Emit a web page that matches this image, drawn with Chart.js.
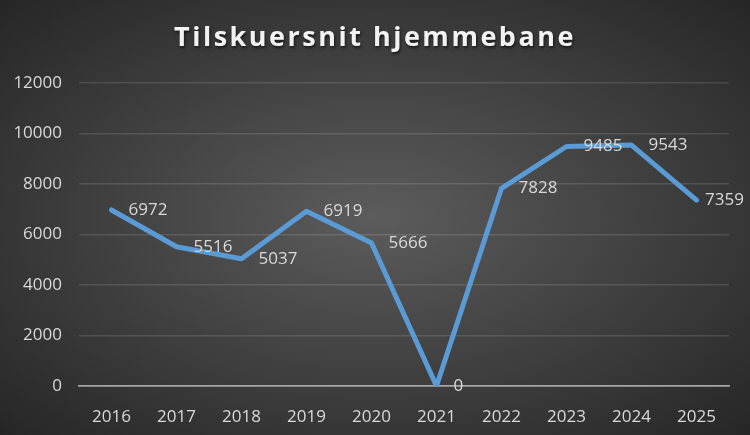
<!DOCTYPE html>
<html>
<head>
<meta charset="utf-8">
<script src="https://cdn.jsdelivr.net/npm/chart.js@4"></script>
<style>
    html, body { margin: 0; padding: 0; }
    #wrap {
        width: 750px;
        height: 435px;
        background: radial-gradient(ellipse at 50% 50%, #5c5c5c 0%, #3e3e3e 55%, #262626 100%);
    }
</style>
</head>
<body>
<div id="wrap"><canvas id="tilskuerChart" width="750" height="435"></canvas></div>
<script>
var titel = 'Tilskuersnit hjemmebane';
var aar = ['2016', '2017', '2018', '2019', '2020', '2021', '2022', '2023', '2024', '2025'];
var tilskuere = [6972, 5516, 5037, 6919, 5666, 0, 7828, 9485, 9543, 7359];
var yMin = 0;
var yMax = 12000;
var yStep = 2000;

var tekstFarve = '#d9d9d9';
var linjeFarve = '#5b9bd5';

// titel med lidt afstand mellem bogstaverne og skygge
var titelPlugin = {
    id: 'titelPlugin',
    afterDraw: function (chart) {
        var ctx = chart.ctx;
        ctx.save();
        ctx.font = 'bold 27px "Open Sans"';
        ctx.letterSpacing = '2.5px';
        ctx.fillStyle = '#f2f2f2';
        ctx.textAlign = 'center';
        ctx.textBaseline = 'middle';
        ctx.shadowColor = 'rgba(0, 0, 0, 0.6)';
        ctx.shadowOffsetX = 1;
        ctx.shadowOffsetY = 2;
        ctx.shadowBlur = 3;
        ctx.fillText(titel, chart.width / 2, 38);
        ctx.restore();
    }
};

// værdier til højre for hvert punkt, holdes inden for kanten
var labelPlugin = {
    id: 'labelPlugin',
    afterDatasetsDraw: function (chart) {
        var ctx = chart.ctx;
        var meta = chart.getDatasetMeta(0);
        ctx.save();
        ctx.font = '17px "Open Sans"';
        ctx.fillStyle = tekstFarve;
        ctx.textAlign = 'left';
        ctx.textBaseline = 'middle';
        meta.data.forEach(function (punkt, i) {
            var tekst = String(tilskuere[i]);
            var bredde = ctx.measureText(tekst).width;
            var x = Math.min(punkt.x + 17, chart.width - bredde - 6);
            ctx.fillText(tekst, x, punkt.y);
        });
        ctx.restore();
    }
};

var tilskuerCtx = document.getElementById('tilskuerChart').getContext('2d');

var tilskuerChart = new Chart(tilskuerCtx, {
    type: 'line',
    data: {
        labels: aar,
        datasets: [
            {
                label: titel,
                data: tilskuere,
                borderColor: linjeFarve,
                backgroundColor: linjeFarve,
                borderWidth: 5,
                borderCapStyle: 'round',
                borderJoinStyle: 'round',
                pointRadius: 0,
                tension: 0,
                fill: false
            }
        ]
    },
    options: {
        responsive: false,
        animation: false,
        layout: {
            padding: {
                left: 0,
                right: 21,
                top: 83,
                bottom: 0
            }
        },
        scales: {
            x: {
                offset: true,
                grid: {
                    display: false
                },
                border: {
                    color: '#a6a6a6',
                    width: 1.5
                },
                ticks: {
                    color: tekstFarve,
                    padding: 13,
                    font: {
                        family: 'Open Sans',
                        size: 17
                    }
                },
                afterFit: function (scale) {
                    scale.height = 49;
                }
            },
            y: {
                min: yMin,
                max: yMax,
                border: {
                    display: false
                },
                grid: {
                    drawTicks: false,
                    lineWidth: 1.5,
                    color: function (c) {
                        return c.tick.value === 0 ? '#a6a6a6' : 'rgba(255, 255, 255, 0.12)';
                    }
                },
                ticks: {
                    stepSize: yStep,
                    color: tekstFarve,
                    padding: 17,
                    font: {
                        family: 'Open Sans',
                        size: 17
                    },
                    callback: function (value) {
                        return String(value);
                    }
                },
                afterFit: function (scale) {
                    scale.width = 79;
                }
            }
        },
        plugins: {
            legend: {
                display: false
            },
            title: {
                display: false
            },
            tooltip: {
                enabled: false
            }
        }
    },
    plugins: [titelPlugin, labelPlugin]
});
</script>
</body>
</html>
